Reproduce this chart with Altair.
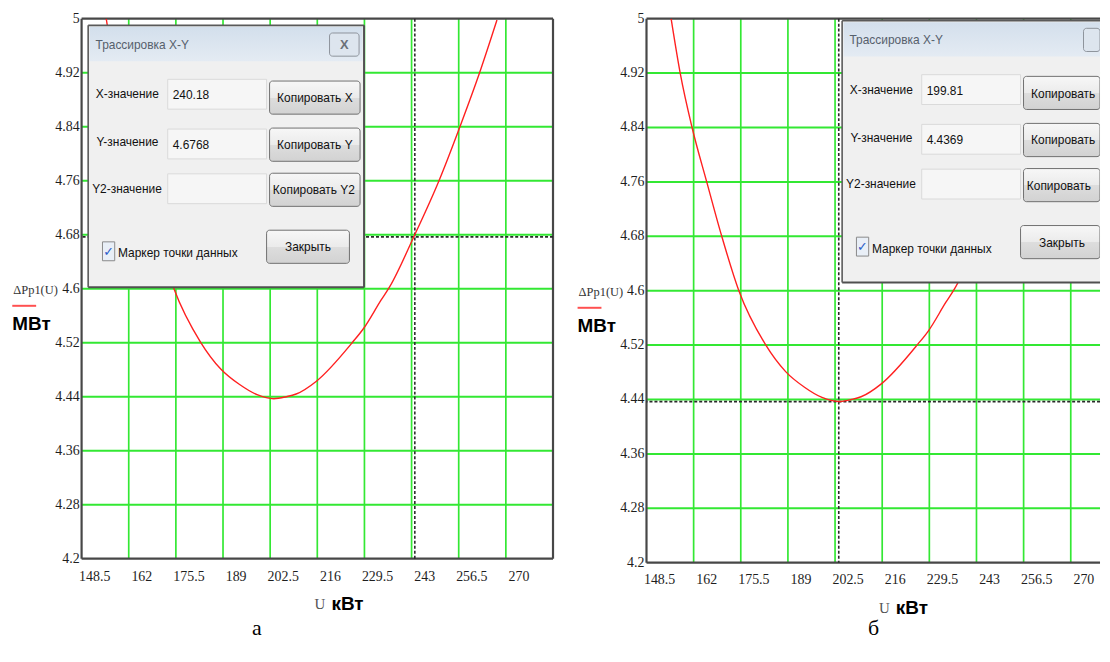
import altair as alt
import pandas as pd

# ---------------- data ----------------
U_VALUES = [151.8, 154.4, 157.8, 162.0, 166.3, 171.2, 178.8, 184.6, 190.0, 195.0, 199.8,
            203.4, 206.2, 212.0, 222.4, 225.5, 230.5, 233.0, 239.9, 247.1, 253.1, 258.8, 263.7]
DP_VALUES = [5.0, 4.92, 4.84, 4.76, 4.68, 4.60, 4.521, 4.481, 4.458, 4.443, 4.437,
             4.440, 4.444, 4.463, 4.521, 4.541, 4.583, 4.603, 4.677, 4.760, 4.840, 4.921, 4.998]
X_TICKS = [148.5, 162, 175.5, 189, 202.5, 216, 229.5, 243, 256.5, 270]
X_GRID = [158.25, 171.75, 185.25, 198.75, 212.25, 225.75, 239.25, 252.75, 266.25]
Y_TICKS = [4.2, 4.28, 4.36, 4.44, 4.52, 4.6, 4.68, 4.76, 4.84, 4.92, 5.0]
Y_GRID = [4.28, 4.36, 4.44, 4.52, 4.6, 4.68, 4.76, 4.84, 4.92]
TRACE_A = [240.18, 4.6768]
TRACE_B = [199.81, 4.4369]
PANEL_LETTERS = ["а", "б"]
X_MIN = 144.75

# ---------------- styles ----------------
GREEN = "#33e833"
DARK = "#474747"
RED = "#ff2020"
SERIF = "Liberation Serif"
UIFONT = "Liberation Sans"
SANS = "Liberation Sans"
UISIZE = 12

BTN_GRAD = {"gradient": "linear", "x1": 0, "y1": 0, "x2": 0, "y2": 1,
            "stops": [{"offset": 0, "color": "#f7f7f7"}, {"offset": 0.5, "color": "#ebebeb"},
                      {"offset": 0.51, "color": "#dddddd"}, {"offset": 1, "color": "#d2d2d2"}]}
TITLE_GRAD = {"gradient": "linear", "x1": 0, "y1": 0, "x2": 0, "y2": 1,
              "stops": [{"offset": 0, "color": "#d3dfec"}, {"offset": 1, "color": "#e4ebf3"}]}


def rect_layer(rows, clip=True, **kw):
    return alt.Chart(pd.DataFrame(rows)).mark_rect(clip=clip, **kw).encode(
        x=alt.X("x0:Q", scale=None, axis=None), x2="x1:Q",
        y=alt.Y("y0:Q", scale=None, axis=None), y2="y1:Q")


def text_layer(rows, clip=True, **kw):
    return alt.Chart(pd.DataFrame(rows)).mark_text(clip=clip, **kw).encode(
        x=alt.X("x:Q", scale=None, axis=None),
        y=alt.Y("y:Q", scale=None, axis=None),
        text="t:N")


def rule_px(x0, x1, y0, y1, color, sw, clip=False):
    return alt.Chart(pd.DataFrame({"a": [0]})).mark_rule(
        color=color, strokeWidth=sw, clip=clip).encode(
        x=alt.value(x0), x2=alt.value(x1), y=alt.value(y0), y2=alt.value(y1))


def dialog(ox, oy, xval, yval, max_w):
    def R(x0, y0, x1, y1):
        return {"x0": ox + x0, "x1": min(ox + x1, max_w), "y0": oy + y0, "y1": oy + y1}

    def T(x, y, t):
        return {"x": ox + x, "y": oy + y, "t": t}

    W, H = 277.4, 263.3
    right_edge = min(ox + W, max_w)
    layers = [
        rect_layer([R(0, 0, W, H)], fill="#f0f0f0"),
        rect_layer([R(1.5, 1.5, W - 1.5, 36)], fill=TITLE_GRAD),
        rect_layer([R(242.7, 7.7, 272.4, 31)], fill="#dde5ee", stroke="#8d939b",
                   strokeWidth=1, cornerRadius=3),
        rect_layer([R(80, 54.3, 179.4, 84.3), R(80, 104.3, 179.4, 134.3),
                    R(80, 149.3, 179.4, 179.3)], fill="#f6f6f6", stroke="#dadada",
                   strokeWidth=1),
        rect_layer([R(182.4, 56, 273.4, 89.3), R(182.4, 103.3, 273.4, 136.7),
                    R(182.4, 148.7, 273.4, 182), R(179.4, 206, 262.7, 239.3)],
                   fill=BTN_GRAD, stroke="#707070", strokeWidth=1, cornerRadius=3),
        rect_layer([R(14.4, 217.7, 26.7, 236.7)], fill="#e9eff7", stroke="#8a8a8a",
                   strokeWidth=1),
        # frame of the window
        rule_px(ox, right_edge, oy, oy, "#5a5a5a", 1.6),
        rule_px(ox, right_edge, oy + H, oy + H, "#505050", 2),
        rule_px(ox, ox, oy, oy + H, "#5a5a5a", 1.6),
        text_layer([T(7.4, 19.3, "Трассировка X-Y")], align="left", baseline="middle",
                   font=UIFONT, fontSize=UISIZE, color="#56606c"),
        text_layer([T(7.7, 69.3, "X-значение"), T(8.4, 117.7, "Y-значение"),
                    T(4.0, 164.3, "Y2-значение"), T(85, 70.3, xval), T(85, 120, yval),
                    T(30, 229.3, "Маркер точки данных")],
                   align="left", baseline="middle", font=UIFONT, fontSize=UISIZE,
                   color="#111111"),
        text_layer([T(221, 223.3, "Закрыть")], align="center", baseline="middle",
                   font=UIFONT, fontSize=UISIZE, color="#111111"),
        text_layer([T(20.5, 227.5, "✓")], align="center", baseline="middle",
                   font="DejaVu Sans", fontSize=13, fontWeight="bold", color="#2a5cc8"),
    ]
    if ox + W <= max_w:
        layers.append(rule_px(ox + W, ox + W, oy, oy + H, "#505050", 2))
    # button captions, left aligned, cut at the panel edge
    for (bx, by, t) in [(190, 73.3, "Копировать X"), (190, 120, "Копировать Y"),
                        (185.7, 166, "Копировать Y2")]:
        lim = max_w - (ox + bx) - 1
        layers.append(text_layer([T(bx, by, t)], align="left", baseline="middle",
                                 font=UIFONT, fontSize=UISIZE, color="#111111",
                                 limit=lim, ellipsis="\u200b"))
    if ox + 262 <= max_w:
        layers.append(text_layer([T(257.5, 19.5, "X")], align="center", baseline="middle",
                                 font=SANS, fontSize=13, fontWeight="bold", color="#6b7078"))
    return layers


def panel(width, height, x_max, trace, dlg_origin, letter, ann):
    xs = alt.Scale(domain=[X_MIN, x_max], nice=False, zero=False)
    ys = alt.Scale(domain=[4.2, 5.0], nice=False, zero=False)

    bg = rect_layer([{"x0": 0, "x1": width, "y0": 0, "y1": height}], fill="white")
    vgrid = alt.Chart(pd.DataFrame({"g": X_GRID})).mark_rule(
        color=GREEN, strokeWidth=1.7).encode(
        x=alt.X("g:Q", scale=xs, axis=None))
    hgrid = alt.Chart(pd.DataFrame({"g": Y_GRID})).mark_rule(
        color=GREEN, strokeWidth=2).encode(
        y=alt.Y("g:Q", scale=ys, axis=None))

    xlabels = alt.Chart(pd.DataFrame({"v": X_TICKS})).mark_text(
        font=SERIF, fontSize=14, color="#1e1e1e", align="center",
        baseline="middle").encode(
        x=alt.X("v:Q", scale=xs, axis=None), y=alt.value(height + ann["xlab_dy"]),
        text=alt.Text("v:Q", format="~g"))
    ylabels = alt.Chart(pd.DataFrame({"v": Y_TICKS})).mark_text(
        font=SERIF, fontSize=14, color="#1e1e1e", align="right",
        baseline="middle").encode(
        y=alt.Y("v:Q", scale=ys, axis=None), x=alt.value(-2),
        text=alt.Text("v:Q", format="~g"))

    borders = [rule_px(0, 0, 0, height, DARK, 2.2),
               rule_px(0, width, height, height, DARK, 2.2),
               rule_px(0, width, 0, 0, DARK, 2.2)]
    if ann["right_border"]:
        borders.append(rule_px(width, width, 0, height, DARK, 2.2))

    tdf = pd.DataFrame({"U": [trace[0]], "P": [trace[1]]})
    vline = alt.Chart(tdf).mark_rule(color="#2a2a2a", strokeWidth=1.6,
                                     strokeDash=[3, 2]).encode(
        x=alt.X("U:Q", scale=xs, axis=None))
    hline = alt.Chart(tdf).mark_rule(color="#2a2a2a", strokeWidth=1.6,
                                     strokeDash=[3, 2]).encode(
        y=alt.Y("P:Q", scale=ys, axis=None))

    curve = alt.Chart(pd.DataFrame({"U": U_VALUES, "P": DP_VALUES})).mark_line(
        color=RED, strokeWidth=1.4, interpolate="monotone", clip=True).encode(
        x=alt.X("U:Q", scale=xs, axis=None),
        y=alt.Y("P:Q", scale=ys, axis=None))

    ax, ay = ann["ylab"]
    ux, uy = ann["xlab"]
    lx, ly = ann["letter"]
    annotations = [
        text_layer([{"x": ax, "y": ay, "t": "ΔPp1(U)"}], clip=False, align="left",
                   baseline="middle", font=SERIF, fontSize=12.5, color="#333333"),
        rule_px(ax - 1, ax + 23, ay + 16, ay + 16, "#ff5050", 2),
        text_layer([{"x": ax - 1, "y": ay + 34, "t": "МВт"}], clip=False, align="left",
                   baseline="middle", font=SANS, fontSize=19, fontWeight="bold",
                   color="#000000"),
        text_layer([{"x": ux, "y": uy, "t": "U"}], clip=False, align="left",
                   baseline="middle", font=SERIF, fontSize=15, color="#555555"),
        text_layer([{"x": ux + 17, "y": uy, "t": "кВт"}], clip=False, align="left",
                   baseline="middle", font=SANS, fontSize=19, fontWeight="bold",
                   color="#000000"),
        text_layer([{"x": lx, "y": ly, "t": letter}], clip=False, align="center",
                   baseline="middle", font=SERIF, fontSize=22, color="#000000"),
    ]

    layers = [bg, vgrid, hgrid] + borders + [vline, hline, curve] + \
        dialog(dlg_origin[0], dlg_origin[1], ann["xval"], ann["yval"], width) + \
        [xlabels, ylabels] + annotations
    return alt.layer(*layers).properties(width=width, height=height)


left = panel(474, 543, X_MIN + 474 / 3.511, TRACE_A, (6.6, 6.7), PANEL_LETTERS[0],
             {"ylab": (-68.7, 272.7), "xlab": (234.3, 588.7), "letter": (176.3, 612.7),
              "xval": "240.18", "yval": "4.6768", "right_border": True, "xlab_dy": 18.7})
right = panel(456, 547, X_MIN + 456 / 3.511, TRACE_B, (196.7, 2.0), PANEL_LETTERS[1],
              {"ylab": (-68.3, 274.7), "xlab": (233.7, 592.7), "letter": (228.2, 612.7),
               "xval": "199.81", "yval": "4.4369", "right_border": False, "xlab_dy": 17})

chart = alt.concat(left, right, columns=2, spacing=94, bounds="flush",
                   align="each").configure_view(stroke=None).properties(
    padding={"left": 3, "top": 2, "right": 0, "bottom": 0},
    background="white")

chart.save("out.html", embed_options={"renderer": "svg", "actions": False})
